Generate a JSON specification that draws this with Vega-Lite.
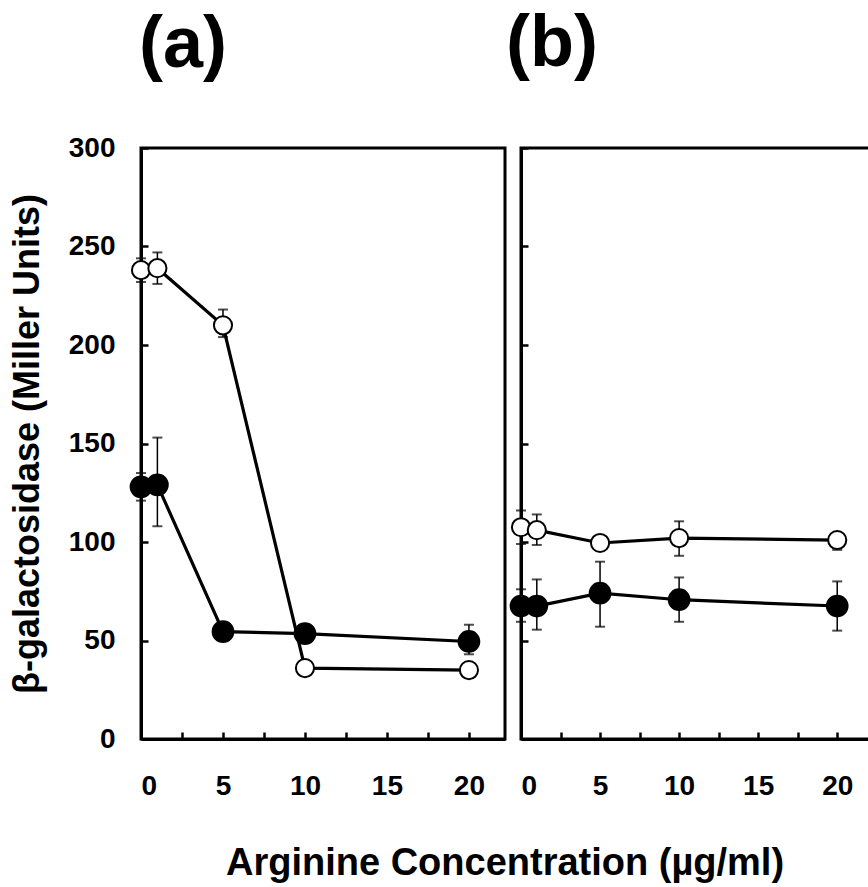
{
  "$schema": "https://vega.github.io/schema/vega-lite/v6.json",
  "padding": {"left": 7, "top": 6, "right": 0, "bottom": 0},
  "background": "white",
  "datasets": {
    "pts": [
      {"panel": "a", "series": "open", "x": 0, "y": 238, "lo": 232, "hi": 244},
      {"panel": "a", "series": "open", "x": 1, "y": 239, "lo": 231, "hi": 247},
      {"panel": "a", "series": "open", "x": 5, "y": 210, "lo": 204, "hi": 218},
      {"panel": "a", "series": "open", "x": 10, "y": 36, "lo": 33, "hi": 39},
      {"panel": "a", "series": "open", "x": 20, "y": 35, "lo": 33, "hi": 37},
      {"panel": "a", "series": "filled", "x": 0, "y": 128, "lo": 121, "hi": 135},
      {"panel": "a", "series": "filled", "x": 1, "y": 129, "lo": 108, "hi": 153},
      {"panel": "a", "series": "filled", "x": 5, "y": 54.5, "lo": 52, "hi": 57},
      {"panel": "a", "series": "filled", "x": 10, "y": 53.5, "lo": 50, "hi": 57},
      {"panel": "a", "series": "filled", "x": 20, "y": 49.5, "lo": 43, "hi": 58},
      {"panel": "b", "series": "open", "x": 0, "y": 107.5, "lo": 99, "hi": 116},
      {"panel": "b", "series": "open", "x": 1, "y": 106, "lo": 98.5, "hi": 114},
      {"panel": "b", "series": "open", "x": 5, "y": 99.5, "lo": 97, "hi": 102},
      {"panel": "b", "series": "open", "x": 10, "y": 102, "lo": 93, "hi": 110.5},
      {"panel": "b", "series": "open", "x": 20, "y": 101, "lo": 96, "hi": 104.5},
      {"panel": "b", "series": "filled", "x": 0, "y": 67.5, "lo": 59.5, "hi": 76},
      {"panel": "b", "series": "filled", "x": 1, "y": 67.5, "lo": 55.5, "hi": 81},
      {"panel": "b", "series": "filled", "x": 5, "y": 74, "lo": 57, "hi": 90},
      {"panel": "b", "series": "filled", "x": 10, "y": 70.7, "lo": 59.5, "hi": 82},
      {"panel": "b", "series": "filled", "x": 20, "y": 67.5, "lo": 55, "hi": 80}
    ]
  },
  "title": {
    "text": "Arginine Concentration (µg/ml)",
    "orient": "bottom",
    "anchor": "middle",
    "frame": "group",
    "dx": 364,
    "fontSize": 38,
    "fontWeight": "bold",
    "font": "Liberation Sans",
    "color": "black",
    "offset": 43
  },
  "bounds": "flush",
  "spacing": 16,
  "hconcat": [
    {
      "width": 364,
      "height": 591,
      "title": {"text": "(a)", "anchor": "start", "frame": "group", "dx": -2, "offset": 52, "fontSize": 72, "fontWeight": "bold", "font": "Liberation Sans", "color": "black"},
      "data": {"name": "pts"},
      "transform": [{"filter": "datum.panel == 'a'"}],
      "encoding": {
        "x": {"field": "x", "type": "quantitative", "scale": {"domain": [0, 22.2], "nice": false, "zero": false},
              "axis": {"values": [0, 2.5, 5, 7.5, 10, 12.5, 15, 17.5, 20], "labelExpr": "datum.value % 5 == 0 ? datum.label : ''", "title": null}}
      },
      "layer": [
        {"mark": {"type": "rule", "strokeWidth": 1.5, "color": "black"},
         "encoding": {"y": {"field": "lo", "type": "quantitative", "scale": {"domain": [0, 300], "nice": false},
                            "axis": {"values": [0, 50, 100, 150, 200, 250, 300], "title": "β-galactosidase (Miller Units)"}},
                      "y2": {"field": "hi"}}},
        {"mark": {"type": "tick", "orient": "horizontal", "size": 10, "thickness": 2, "color": "black"},
         "encoding": {"y": {"field": "lo", "type": "quantitative"}}},
        {"mark": {"type": "tick", "orient": "horizontal", "size": 10, "thickness": 2, "color": "black"},
         "encoding": {"y": {"field": "hi", "type": "quantitative"}}},
        {"mark": {"type": "line", "strokeWidth": 3.2, "color": "black"},
         "encoding": {"y": {"field": "y", "type": "quantitative"}, "detail": {"field": "series"}}},
        {"mark": {"type": "point", "shape": "circle", "filled": false, "stroke": "black", "strokeWidth": 2, "opacity": 1},
         "encoding": {"y": {"field": "y", "type": "quantitative"},
                      "fill": {"field": "series", "type": "nominal", "scale": {"domain": ["filled", "open"], "range": ["black", "white"]}, "legend": null},
                      "size": {"field": "series", "type": "nominal", "scale": {"domain": ["filled", "open"], "range": [430, 330]}, "legend": null}}}
      ]
    },
    {
      "width": 351,
      "height": 591,
      "title": {"text": "(b)", "anchor": "start", "frame": "group", "dx": -15, "offset": 66, "fontSize": 72, "fontWeight": "bold", "font": "Liberation Sans", "color": "black"},
      "data": {"name": "pts"},
      "transform": [{"filter": "datum.panel == 'b'"}],
      "encoding": {
        "x": {"field": "x", "type": "quantitative", "scale": {"domain": [0, 22.2], "nice": false, "zero": false},
              "axis": {"values": [0, 2.5, 5, 7.5, 10, 12.5, 15, 17.5, 20], "labelExpr": "datum.value % 5 == 0 ? datum.label : ''", "title": null}}
      },
      "layer": [
        {"mark": {"type": "rule", "strokeWidth": 1.5, "color": "black"},
         "encoding": {"y": {"field": "lo", "type": "quantitative", "scale": {"domain": [0, 300], "nice": false},
                            "axis": {"values": [0, 50, 100, 150, 200, 250, 300], "labels": false, "title": null}},
                      "y2": {"field": "hi"}}},
        {"mark": {"type": "tick", "orient": "horizontal", "size": 10, "thickness": 2, "color": "black"},
         "encoding": {"y": {"field": "lo", "type": "quantitative"}}},
        {"mark": {"type": "tick", "orient": "horizontal", "size": 10, "thickness": 2, "color": "black"},
         "encoding": {"y": {"field": "hi", "type": "quantitative"}}},
        {"mark": {"type": "line", "strokeWidth": 3.2, "color": "black"},
         "encoding": {"y": {"field": "y", "type": "quantitative"}, "detail": {"field": "series"}}},
        {"mark": {"type": "point", "shape": "circle", "filled": false, "stroke": "black", "strokeWidth": 2, "opacity": 1},
         "encoding": {"y": {"field": "y", "type": "quantitative"},
                      "fill": {"field": "series", "type": "nominal", "scale": {"domain": ["filled", "open"], "range": ["black", "white"]}, "legend": null},
                      "size": {"field": "series", "type": "nominal", "scale": {"domain": ["filled", "open"], "range": [430, 330]}, "legend": null}}}
      ]
    }
  ],
  "config": {
    "font": "Liberation Sans",
    "view": {"stroke": "black", "strokeWidth": 3},
    "axis": {
      "grid": false,
      "domainColor": "black",
      "domainWidth": 3,
      "tickColor": "black",
      "tickWidth": 2.5,
      "tickSize": -7,
      "labelFont": "Liberation Sans",
      "labelFontWeight": "bold",
      "labelFontSize": 28,
      "labelColor": "black",
      "titleFont": "Liberation Sans",
      "titleFontWeight": "bold",
      "titleFontSize": 36,
      "titleColor": "black"
    },
    "axisX": {"labelPadding": 40},
    "axisY": {"labelPadding": 33, "titlePadding": 22}
  }
}
